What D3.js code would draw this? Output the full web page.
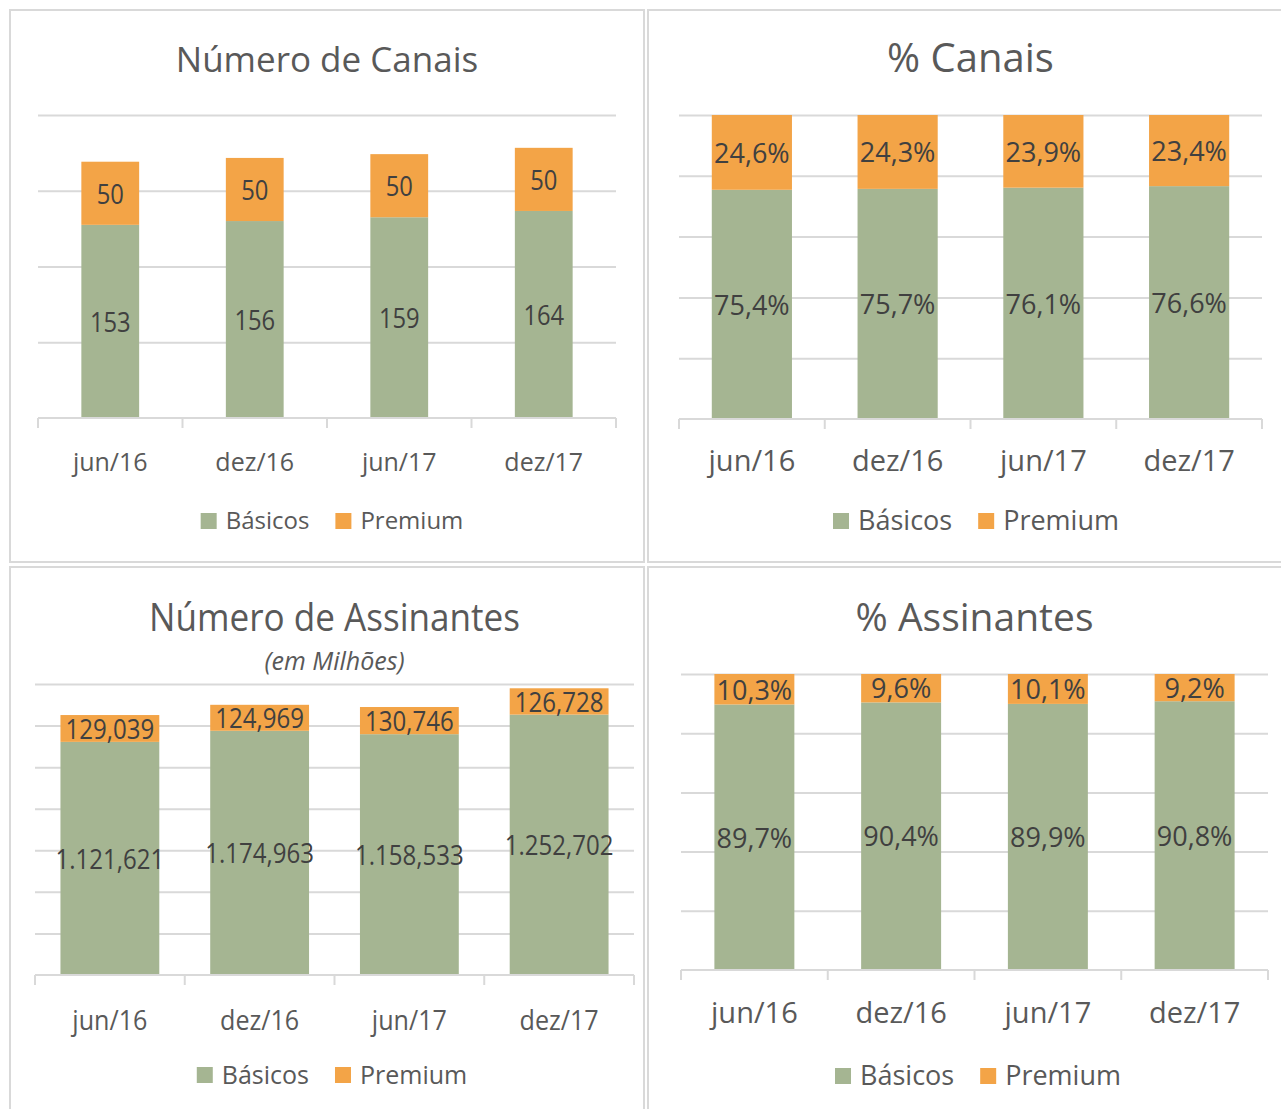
<!DOCTYPE html>
<html>
<head>
<meta charset="utf-8">
<script src="https://cdn.jsdelivr.net/npm/d3@7"></script>
<style>
  body { margin: 0; background: #fff; }
  svg { font-family: 'Open Sans', 'Noto Sans', sans-serif; }
</style>
</head>
<body>
<div id="chart"></div>
<script>
// Data
var categories = ["jun/16", "dez/16", "jun/17", "dez/17"],
	seriesNames = ["Básicos", "Premium"],
	canaisBasicos = [153, 156, 159, 164],
	canaisPremium = [50, 50, 50, 50],
	pctCanaisBasicos = [75.4, 75.7, 76.1, 76.6],
	pctCanaisPremium = [24.6, 24.3, 23.9, 23.4],
	assinBasicos = [1121.621, 1174.963, 1158.533, 1252.702],
	assinPremium = [129.039, 124.969, 130.746, 126.728],
	pctAssinBasicos = [89.7, 90.4, 89.9, 90.8],
	pctAssinPremium = [10.3, 9.6, 10.1, 9.2];

var width = 1281,
	height = 1109,
	colors = ["#a5b592", "#f3a447"],
	gridColor = "#d9d9d9",
	textColor = "#595959",
	labelColor = "#404040";

var pt = d3.formatLocale({decimal: ",", thousands: ".", grouping: [3], currency: ["R$", ""]});
var fmtInt = pt.format("d"),
	fmtMil = pt.format(",.3f"),
	fmtPct = function(v) { return pt.format(".1f")(v) + "%"; };

var svg = d3.select("#chart").append("svg")
	.attr("width", width)
	.attr("height", height);

// panel layouts (sx = horizontal squeeze of the text)
var panels = [
	{ box: [10, 10, 634, 552], title: "Número de Canais", titleY: 72, titleSize: 35, titleSx: 1,
	  basicos: canaisBasicos, premium: canaisPremium, fmt: fmtInt,
	  xRange: [38, 616], yRange: [418, 115], yMax: 240, yStep: 60, pad: 0.6,
	  axisY: 471, axisSize: 25, axisSx: 1, labelSize: 27, labelSx: 0.88,
	  legendY: 521, legendSize: 24, legendX: 332 },
	{ box: [648, 10, 640, 552], title: "% Canais", titleY: 72, titleSize: 40, titleSx: 1,
	  basicos: pctCanaisBasicos, premium: pctCanaisPremium, fmt: fmtPct,
	  xRange: [679, 1262], yRange: [419, 115], yMax: 100, yStep: 20, pad: 0.45,
	  axisY: 471, axisSize: 29, axisSx: 1, labelSize: 27, labelSx: 1,
	  legendY: 521, legendSize: 27, legendX: 976 },
	{ box: [10, 567, 634, 550], title: "Número de Assinantes", titleY: 631, titleSize: 39, titleSx: 0.9,
	  subtitle: "(em Milhões)", subtitleY: 670,
	  basicos: assinBasicos, premium: assinPremium, fmt: fmtMil,
	  xRange: [35, 634], yRange: [975, 684], yMax: 1400, yStep: 200, pad: 0.34,
	  axisY: 1030, axisSize: 27, axisSx: 0.93, labelSize: 27, labelSx: 0.89,
	  legendY: 1075, legendSize: 25, legendX: 332 },
	{ box: [648, 567, 640, 550], title: "% Assinantes", titleY: 631, titleSize: 39, titleSx: 1,
	  basicos: pctAssinBasicos, premium: pctAssinPremium, fmt: fmtPct,
	  xRange: [681, 1268], yRange: [970, 674], yMax: 100, yStep: 20, pad: 0.455,
	  axisY: 1023, axisSize: 29, axisSx: 1, labelSize: 27, labelSx: 1,
	  legendY: 1076, legendSize: 27, legendX: 978 }
];

function placeText(sel, x, y, sx) {
	sel.attr("transform", "translate(" + x + "," + y + ") scale(" + sx + ",1)");
}

function drawPanel(p) {
	var g = svg.append("g").attr("class", "panel");

	g.append("rect")
		.attr("x", p.box[0]).attr("y", p.box[1])
		.attr("width", p.box[2]).attr("height", p.box[3])
		.attr("fill", "#fff")
		.attr("stroke", gridColor)
		.attr("stroke-width", 2);

	var cx = (p.xRange[0] + p.xRange[1]) / 2;

	g.append("text")
		.attr("text-anchor", "middle")
		.attr("fill", textColor)
		.style("font-size", p.titleSize + "px")
		.text(p.title)
		.call(placeText, cx, p.titleY, p.titleSx);

	if (p.subtitle) {
		g.append("text")
			.attr("x", cx).attr("y", p.subtitleY)
			.attr("text-anchor", "middle")
			.attr("fill", textColor)
			.style("font-size", "25px")
			.style("font-style", "italic")
			.text(p.subtitle);
	}

	var x = d3.scaleBand()
		.domain(categories)
		.range(p.xRange)
		.paddingInner(p.pad)
		.paddingOuter(p.pad / 2);

	var y = d3.scaleLinear()
		.domain([0, p.yMax])
		.range(p.yRange);

	// gridlines
	var grid = g.append("g")
		.attr("transform", "translate(" + p.xRange[0] + ",0)")
		.call(d3.axisLeft(y)
			.tickValues(d3.range(p.yStep, p.yMax + 1, p.yStep))
			.tickSize(-(p.xRange[1] - p.xRange[0]))
			.tickFormat(""));
	grid.select(".domain").remove();
	grid.selectAll("line").attr("stroke", gridColor).attr("stroke-width", 2);

	// stacked data
	var rows = categories.map(function(c, i) {
		return { cat: c, "Básicos": p.basicos[i], "Premium": p.premium[i] };
	});
	var stacked = d3.stack().keys(seriesNames)(rows);

	var layer = g.selectAll("g.layer")
		.data(stacked)
		.enter().append("g")
		.attr("class", "layer")
		.attr("fill", function(d, i) { return colors[i]; });

	layer.selectAll("rect")
		.data(function(d) { return d; })
		.enter().append("rect")
		.attr("x", function(d) { return x(d.data.cat); })
		.attr("width", x.bandwidth())
		.attr("y", function(d) { return y(d[1]); })
		.attr("height", function(d) { return y(d[0]) - y(d[1]); });

	layer.selectAll("text")
		.data(function(d) { return d.map(function(v) { v.key = d.key; return v; }); })
		.enter().append("text")
		.attr("dy", "0.38em")
		.attr("text-anchor", "middle")
		.attr("fill", labelColor)
		.style("font-size", p.labelSize + "px")
		.text(function(d) { return p.fmt(d.data[d.key]); })
		.each(function(d) {
			d3.select(this).call(placeText,
				x(d.data.cat) + x.bandwidth() / 2,
				(y(d[0]) + y(d[1])) / 2,
				p.labelSx);
		});

	// baseline and category-boundary ticks
	var base = y(0);
	g.append("line")
		.attr("x1", p.xRange[0]).attr("x2", p.xRange[1])
		.attr("y1", base).attr("y2", base)
		.attr("stroke", gridColor).attr("stroke-width", 2);
	g.selectAll("line.tick-b")
		.data(d3.range(categories.length + 1))
		.enter().append("line")
		.attr("class", "tick-b")
		.attr("x1", function(i) { return p.xRange[0] + i * x.step(); })
		.attr("x2", function(i) { return p.xRange[0] + i * x.step(); })
		.attr("y1", base).attr("y2", base + 10)
		.attr("stroke", gridColor).attr("stroke-width", 2);

	var xAxis = g.append("g")
		.attr("transform", "translate(0," + p.axisY + ")")
		.call(d3.axisBottom(x).tickSize(0).tickPadding(0));
	xAxis.select(".domain").remove();
	xAxis.selectAll("text")
		.attr("y", 0)
		.attr("dy", 0)
		.attr("fill", textColor)
		.attr("transform", "scale(" + p.axisSx + ",1)")
		.style("font-size", p.axisSize + "px")
		.style("font-family", "'Open Sans', sans-serif");

	// legend
	var sq = 16;
	var legend = g.append("g");
	var items = legend.selectAll("g")
		.data(seriesNames)
		.enter().append("g");
	items.append("rect")
		.attr("width", sq).attr("height", sq)
		.attr("y", -sq / 2)
		.attr("fill", function(d, i) { return colors[i]; });
	items.append("text")
		.attr("x", sq + 9)
		.attr("dy", "0.35em")
		.attr("fill", textColor)
		.style("font-size", p.legendSize + "px")
		.text(function(d) { return d; });

	var offs = 0, gap = 26;
	items.each(function() {
		var w = this.getBBox().width;
		d3.select(this).attr("transform", "translate(" + offs + ",0)");
		offs += w + gap;
	});
	var total = offs - gap;
	legend.attr("transform", "translate(" + (p.legendX - total / 2) + "," + p.legendY + ")");
}

panels.forEach(drawPanel);
</script>
</body>
</html>
